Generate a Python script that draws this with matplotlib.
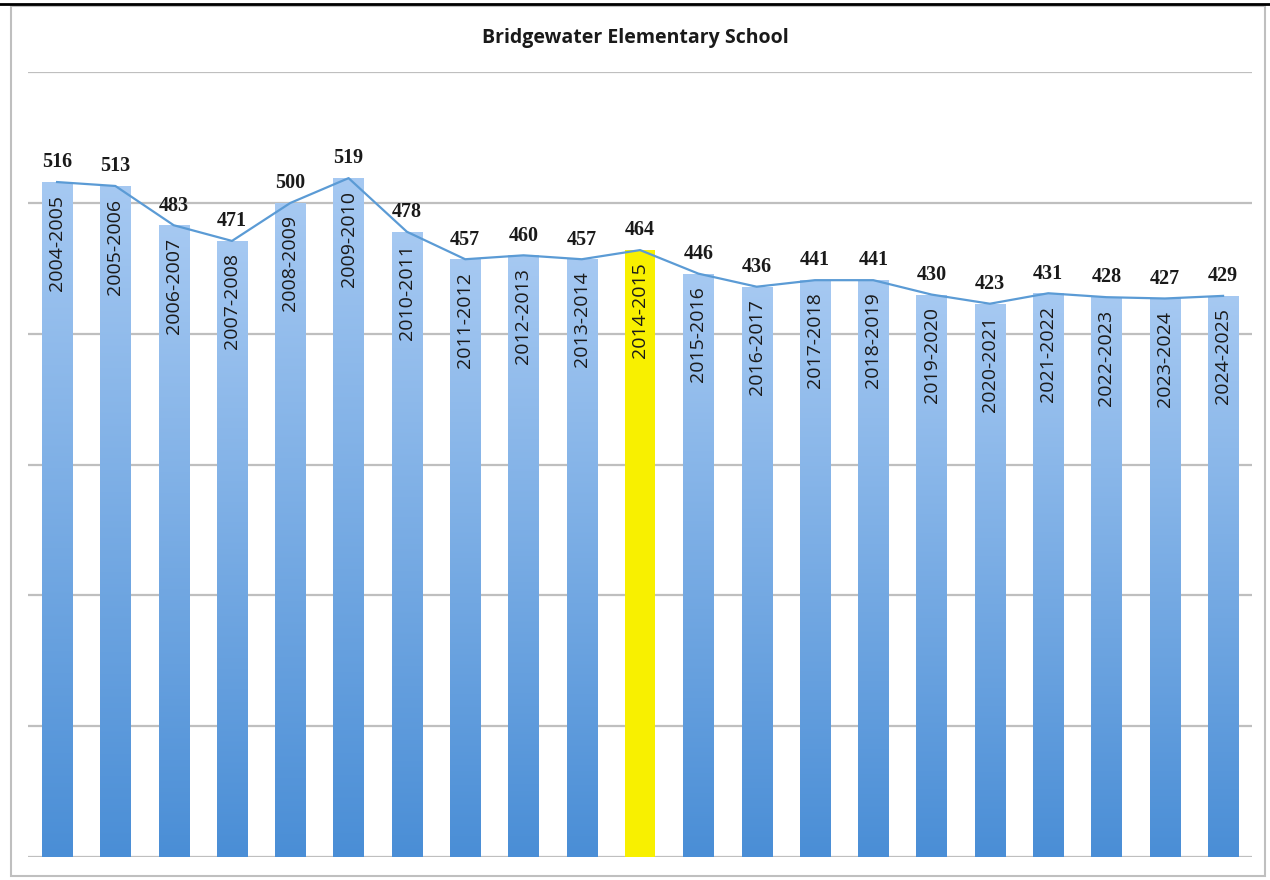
import numpy as np
import matplotlib
matplotlib.use('Agg')
import matplotlib.pyplot as plt
from matplotlib.colors import LinearSegmentedColormap
from matplotlib.patches import Rectangle
from matplotlib.lines import Line2D

# data
years = ['2004-2005', '2005-2006', '2006-2007', '2007-2008', '2008-2009', '2009-2010',
         '2010-2011', '2011-2012', '2012-2013', '2013-2014', '2014-2015', '2015-2016',
         '2016-2017', '2017-2018', '2018-2019', '2019-2020', '2020-2021', '2021-2022',
         '2022-2023', '2023-2024', '2024-2025']
enrollment = [516, 513, 483, 471, 500, 519, 478, 457, 460, 457, 464, 446,
              436, 441, 441, 430, 423, 431, 428, 427, 429]
highlight = '2014-2015'

fig = plt.figure(figsize=(12.7, 8.8), dpi=100)
ax = fig.add_axes([0.022, 0.026, 0.964, 0.892])

x = np.arange(len(years))
cmap = LinearSegmentedColormap.from_list('blues', ['#4a8ed6', '#a6c9f2'])
grad = np.linspace(0, 1, 256).reshape(-1, 1)

bars = ax.bar(x, enrollment, width=0.52, color='none', zorder=2)
for b, yr in zip(bars, years):
    if yr == highlight:
        b.set_facecolor('#f8f000')
        continue
    bx = b.get_x()
    im = ax.imshow(grad, cmap=cmap, origin='lower', aspect='auto', zorder=2,
                   extent=(bx, bx + b.get_width(), 0, b.get_height()))
    im.set_clip_path(b)

ax.plot(x, enrollment, color='#5b9bd5', lw=1.6, zorder=3)

for xi, v, yr in zip(x, enrollment, years):
    ax.annotate(str(v), (xi, v), xytext=(0, 7), textcoords='offset points',
                ha='center', va='bottom', fontsize=14.5, fontweight='bold',
                family='Liberation Serif', color='#1a1a1a', zorder=4)
    ax.annotate(yr, (xi, v), xytext=(0, -9), textcoords='offset points',
                ha='center', va='top', rotation=90, fontsize=14,
                family='Open Sans', color='#1a1a1a', zorder=4)

ax.set_xlim(-0.5, len(years) - 0.5)
ax.set_ylim(0, 600)
ax.set_yticks(range(0, 601, 100))
ax.yaxis.grid(True, color='#bfbfbf', lw=1.6)
ax.set_axisbelow(True)
ax.tick_params(left=False, bottom=False, labelleft=False, labelbottom=False)
for s in ax.spines.values():
    s.set_visible(False)

fig.text(0.5, 0.957, 'Bridgewater Elementary School', ha='center', va='center',
         fontsize=14, fontweight='bold', family='Open Sans', color='#1a1a1a')

# outer frame
fig.patches.append(Rectangle((0.009, 0.005), 0.987, 0.988, transform=fig.transFigure,
                             fill=False, edgecolor='#bfbfbf', lw=1.5))
fig.lines.append(Line2D([0, 1], [0.996, 0.996], transform=fig.transFigure,
                        color='black', lw=2))

fig.savefig('out.png', dpi=100)
